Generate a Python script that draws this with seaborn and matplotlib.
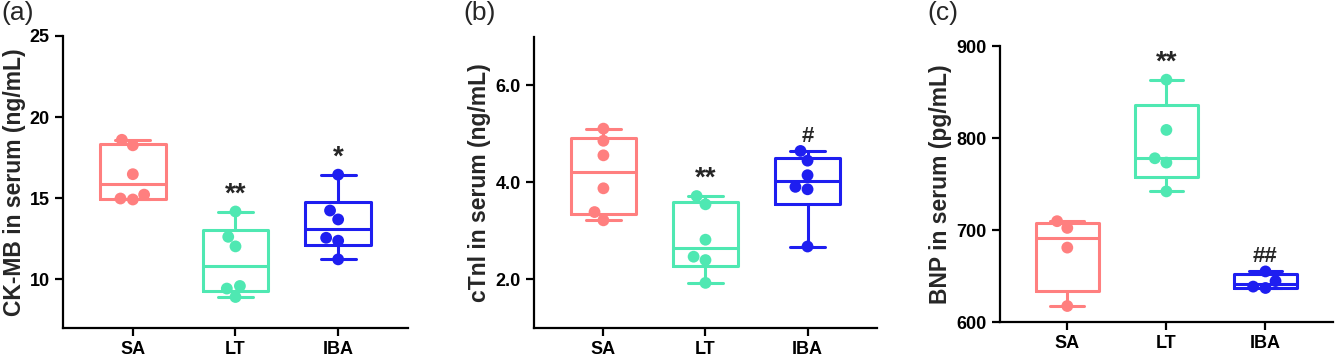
import numpy as np
import pandas as pd
import seaborn as sns
import matplotlib
matplotlib.use("Agg")
import matplotlib.pyplot as plt

groups = ["SA", "LT", "IBA"]
palette = {"SA": "#FF7F7F", "LT": "#4FE8B2", "IBA": "#1E1EF0"}

# (a) CK-MB
ckmb_sa = [14.92, 14.98, 15.22, 16.48, 18.26, 18.60]
ckmb_lt = [8.91, 9.43, 9.59, 12.03, 12.62, 14.18]
ckmb_iba = [11.23, 12.38, 12.56, 13.69, 14.24, 16.45]

# (b) cTnI
ctni_sa = [3.22, 3.39, 3.88, 4.56, 4.86, 5.11]
ctni_lt = [1.93, 2.40, 2.47, 2.82, 3.55, 3.72]
ctni_iba = [2.68, 3.86, 3.91, 4.15, 4.45, 4.65]

# (c) BNP
bnp_sa = [617.4, 680.9, 702.3, 709.6]
bnp_lt = [742.0, 773.3, 778.0, 808.8, 863.4]
bnp_iba = [637.0, 638.5, 644.5, 655.0]

marks_a = ["", "**", "*"]
marks_b = ["", "**", "#"]
marks_c = ["", "**", "##"]

sns.set_style("ticks")
plt.rcParams["font.family"] = ["Liberation Sans", "DejaVu Sans"]


def box_stats(vals):
    # Prism-style quartiles, whiskers at min/max
    v = np.asarray(vals)
    q1, med, q3 = np.percentile(v, [25, 50, 75], method="weibull")
    return dict(med=med, q1=q1, q3=q3, whislo=v.min(), whishi=v.max(), fliers=[])


def panel(ax, data, ylim, yticks, fmt, ylabel, marks):
    df = pd.DataFrame({
        "group": np.concatenate([[g] * len(d) for g, d in zip(groups, data)]),
        "value": np.concatenate(data),
    })
    sns.swarmplot(data=df, x="group", y="value", hue="group", palette=palette,
                  order=groups, size=8.5, legend=False, ax=ax, zorder=3)
    for i, (g, d) in enumerate(zip(groups, data)):
        c = palette[g]
        ax.bxp([box_stats(d)], positions=[i], widths=0.64, capwidths=0.34,
               showfliers=False, manage_ticks=False,
               boxprops=dict(color=c, lw=2.2),
               medianprops=dict(color=c, lw=2.2),
               whiskerprops=dict(color=c, lw=2.2),
               capprops=dict(color=c, lw=2.2))
        if marks[i]:
            fs = 20 if "*" in marks[i] else 16
            ax.annotate(marks[i], (i, max(d)), xytext=(0, 3), textcoords="offset points",
                        ha="center", va="bottom", fontsize=fs, fontweight="bold")
    ax.set_xlim(-0.68, 2.68)
    ax.set_ylim(*ylim)
    ax.set_yticks(yticks)
    ax.set_yticklabels([fmt.format(t) for t in yticks])
    ax.set_xlabel("")
    ax.set_ylabel(ylabel, fontsize=16.5, fontweight="bold", labelpad=3)
    sns.despine(ax=ax)
    for s in ["left", "bottom"]:
        ax.spines[s].set_linewidth(1.6)
        ax.spines[s].set_color("black")
    ax.tick_params(width=1.6, length=6, labelsize=13, colors="black")
    for lab in ax.get_xticklabels() + ax.get_yticklabels():
        lab.set_fontweight("bold")


fig = plt.figure(figsize=(13.35, 3.59), dpi=100)
ax1 = fig.add_axes([0.0472, 0.0864, 0.2584, 0.8134])
ax2 = fig.add_axes([0.4, 0.0864, 0.2569, 0.8106])
ax3 = fig.add_axes([0.749, 0.103, 0.2494, 0.7688])

panel(ax1, [ckmb_sa, ckmb_lt, ckmb_iba], (7, 25), [10, 15, 20, 25], "{:.0f}",
      "CK-MB in serum (ng/mL)", marks_a)
panel(ax2, [ctni_sa, ctni_lt, ctni_iba], (1, 7), [2.0, 4.0, 6.0], "{:.1f}",
      "cTnl in serum (ng/mL)", marks_b)
panel(ax3, [bnp_sa, bnp_lt, bnp_iba], (600, 900), [600, 700, 800, 900], "{:.0f}",
      "BNP in serum (pg/mL)", marks_c)

fig.text(0.001, 0.998, "(a)", va="top", ha="left", fontsize=19)
fig.text(0.347, 0.998, "(b)", va="top", ha="left", fontsize=19)
fig.text(0.695, 0.998, "(c)", va="top", ha="left", fontsize=19)

fig.savefig("out.png", dpi=100)
